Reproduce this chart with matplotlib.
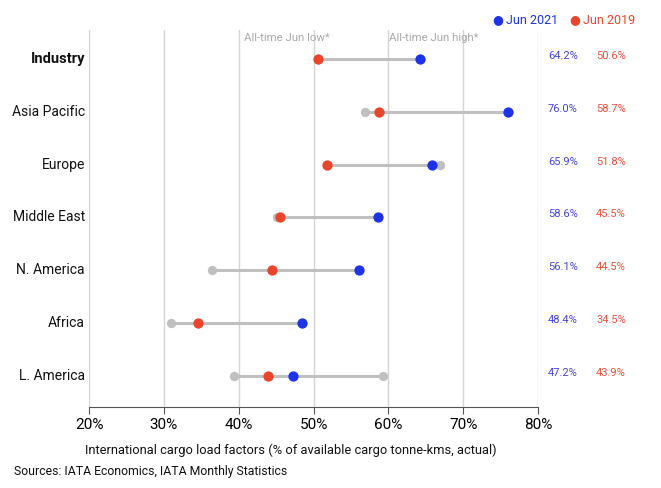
import matplotlib.pyplot as plt

plt.rcParams['font.family'] = ['Roboto', 'DejaVu Sans']

regions = ['Industry', 'Asia Pacific', 'Europe', 'Middle East', 'N. America', 'Africa', 'L. America']
jun_2021 = [64.2, 76.0, 65.9, 58.6, 56.1, 48.4, 47.2]
jun_2019 = [50.6, 58.7, 51.8, 45.5, 44.5, 34.5, 43.9]
# all-time June low / high (None where not shown)
jun_low = [None, 56.9, None, 45.1, 36.4, 31.0, 39.4]
jun_high = [None, None, 66.9, None, None, None, 59.3]
ticks = [20, 30, 40, 50, 60, 70, 80]

BLUE = '#1e32e8'
RED = '#e8452c'
GREY = '#c0c0c0'

ROW0 = 59      # pixel y of first row
ROW_STEP = 52.8

fig = plt.figure(figsize=(6.61, 4.88), dpi=100)
ax = fig.add_axes([89 / 661, 1 - 407 / 488, 449 / 661, 377 / 488])

for i, name in enumerate(regions):
    vals = [jun_2021[i], jun_2019[i]]
    if jun_low[i] is not None:
        vals.append(jun_low[i])
    if jun_high[i] is not None:
        vals.append(jun_high[i])
    ax.plot([min(vals), max(vals)], [i, i], color=GREY, lw=2.2, zorder=2, solid_capstyle='round')
    if jun_low[i] is not None:
        ax.scatter(jun_low[i], i, s=45, color=GREY, zorder=3, linewidths=0)
    if jun_high[i] is not None:
        ax.scatter(jun_high[i], i, s=45, color=GREY, zorder=3, linewidths=0)
    ax.scatter(jun_2019[i], i, s=55, color=RED, zorder=4, linewidths=0)
    ax.scatter(jun_2021[i], i, s=55, color=BLUE, zorder=5, linewidths=0)

    # value columns on the right
    y = 1 - (ROW0 - 3 + i * ROW_STEP) / 488
    fig.text(563 / 661, y, f'{jun_2021[i]:.1f}%', fontsize=8, color='#4444dd', ha='center', va='center')
    fig.text(611 / 661, y, f'{jun_2019[i]:.1f}%', fontsize=8, color='#e8503a', ha='center', va='center')

    # region labels
    bold = name == 'Industry'
    fig.text(85 / 661, 1 - (ROW0 + i * ROW_STEP) / 488, name, fontsize=10.5 if bold else 10,
             ha='right', va='center', fontweight='bold' if bold else 'normal', color='#111111')

ax.set_xlim(20, 80)
ax.set_ylim(6 + 31 / ROW_STEP, -29 / ROW_STEP)
ax.set_xticks(ticks)
ax.set_xticklabels([f'{t}%' for t in ticks], fontsize=11)
ax.set_yticks([])
ax.grid(axis='x', color='#d4d4d4', lw=1, zorder=0)
for s in ['top', 'right', 'left']:
    ax.spines[s].set_visible(False)
ax.spines['bottom'].set_color('#555555')
ax.tick_params(axis='x', length=5, color='#555555', pad=3)
ax.set_axisbelow(True)

ax.text(40.7, -21 / ROW_STEP, 'All-time Jun low*', fontsize=8.2, color='#aaaaaa', ha='left', va='center')
ax.text(60.1, -21 / ROW_STEP, 'All-time Jun high*', fontsize=8.2, color='#aaaaaa', ha='left', va='center')

fig.text(291 / 661, 1 - 450 / 488, 'International cargo load factors (% of available cargo tonne-kms, actual)',
         fontsize=9.3, ha='center', va='center', color='#111111')
fig.text(14 / 661, 1 - 472 / 488, 'Sources: IATA Economics, IATA Monthly Statistics',
         fontsize=8.8, ha='left', va='center', color='#111111')

# legend
fig.text(498 / 661, 1 - 20 / 488, '●', fontsize=9, color=BLUE, ha='center', va='center')
fig.text(506 / 661, 1 - 20 / 488, 'Jun 2021', fontsize=9, color=BLUE, ha='left', va='center')
fig.text(575 / 661, 1 - 20 / 488, '●', fontsize=9, color=RED, ha='center', va='center')
fig.text(583 / 661, 1 - 20 / 488, 'Jun 2019', fontsize=9, color=RED, ha='left', va='center')

fig.savefig('out.png', dpi=100)
